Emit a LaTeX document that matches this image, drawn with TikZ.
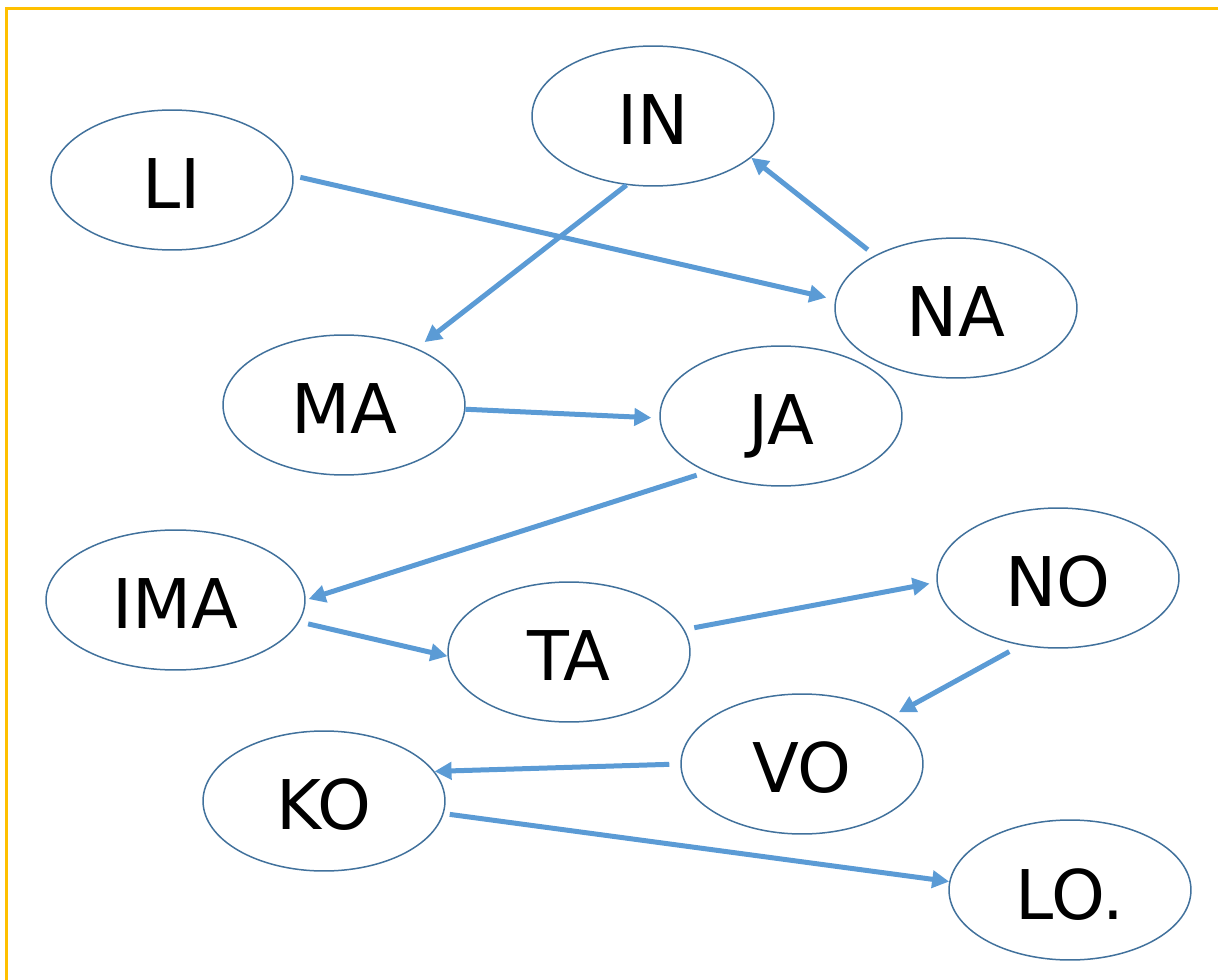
\documentclass[tikz,border=0pt]{standalone}
\usepackage{fontspec}
\setmainfont{DejaVu Sans}
\usetikzlibrary{shapes.geometric,arrows.meta}
\definecolor{frame}{RGB}{255,192,0}
\definecolor{edge}{RGB}{65,113,156}
\definecolor{arr}{RGB}{91,155,213}
\tikzset{
  oval/.style={ellipse,draw=edge,line width=0.03cm,minimum width=4.84cm,minimum height=2.8cm,inner sep=0pt,
    font=\fontsize{39}{41}\selectfont,text height=1.16cm,text depth=0pt},
  link/.style={draw=arr,line width=0.1cm,-{Triangle[length=0.34cm,width=0.34cm]}}
}
\begin{document}
\begin{tikzpicture}[x=0.02cm,y=-0.02cm]
\useasboundingbox (0,0) rectangle (1218,980);
\draw[frame,line width=0.05cm] (6.7,990) -- (6.7,8.7) -- (1230,8.7);
\node[oval] (IN) at (653,116) {IN};
\node[oval] (LI) at (172,180) {LI};
\node[oval] (NA) at (956,308) {NA};
\node[oval] (MA) at (344,405) {MA};
\node[oval] (JA) at (781,416) {JA};
\node[oval,minimum width=5.18cm] (IMA) at (175.5,600) {IMA};
\node[oval] (TA) at (569,652) {TA};
\node[oval] (NO) at (1058,578) {NO};
\node[oval] (VO) at (802,764) {VO};
\node[oval] (KO) at (324,801) {KO};
\node[oval] (LO) at (1070,890) {LO.};
\draw[link,shorten >=0.2cm] (IN.249) -- (MA.38);
\draw[link,shorten <=0.18cm] (NA.147) -- (IN.337);
\draw[link,shorten <=0.14cm,shorten >=0.18cm] (LI.2) -- (NA.176);
\draw[link,shorten >=0.16cm] (MA.358) -- (JA.181);
\draw[link,shorten <=0.21cm,shorten >=0.06cm] (JA.217) -- (IMA.0);
\draw[link,shorten <=0.18cm] (IMA.350) -- (TA.182);
\draw[link,shorten <=0.2cm,shorten >=0.14cm] (TA.11) -- (NO.182);
\draw[link,shorten <=0.26cm,shorten >=0.16cm] (NO.241) -- (VO.28);
\draw[link,shorten <=0.22cm] (VO.180) -- (KO.15);
\draw[link,shorten <=0.12cm] (KO.354) -- (LO.176);
\end{tikzpicture}
\end{document}
